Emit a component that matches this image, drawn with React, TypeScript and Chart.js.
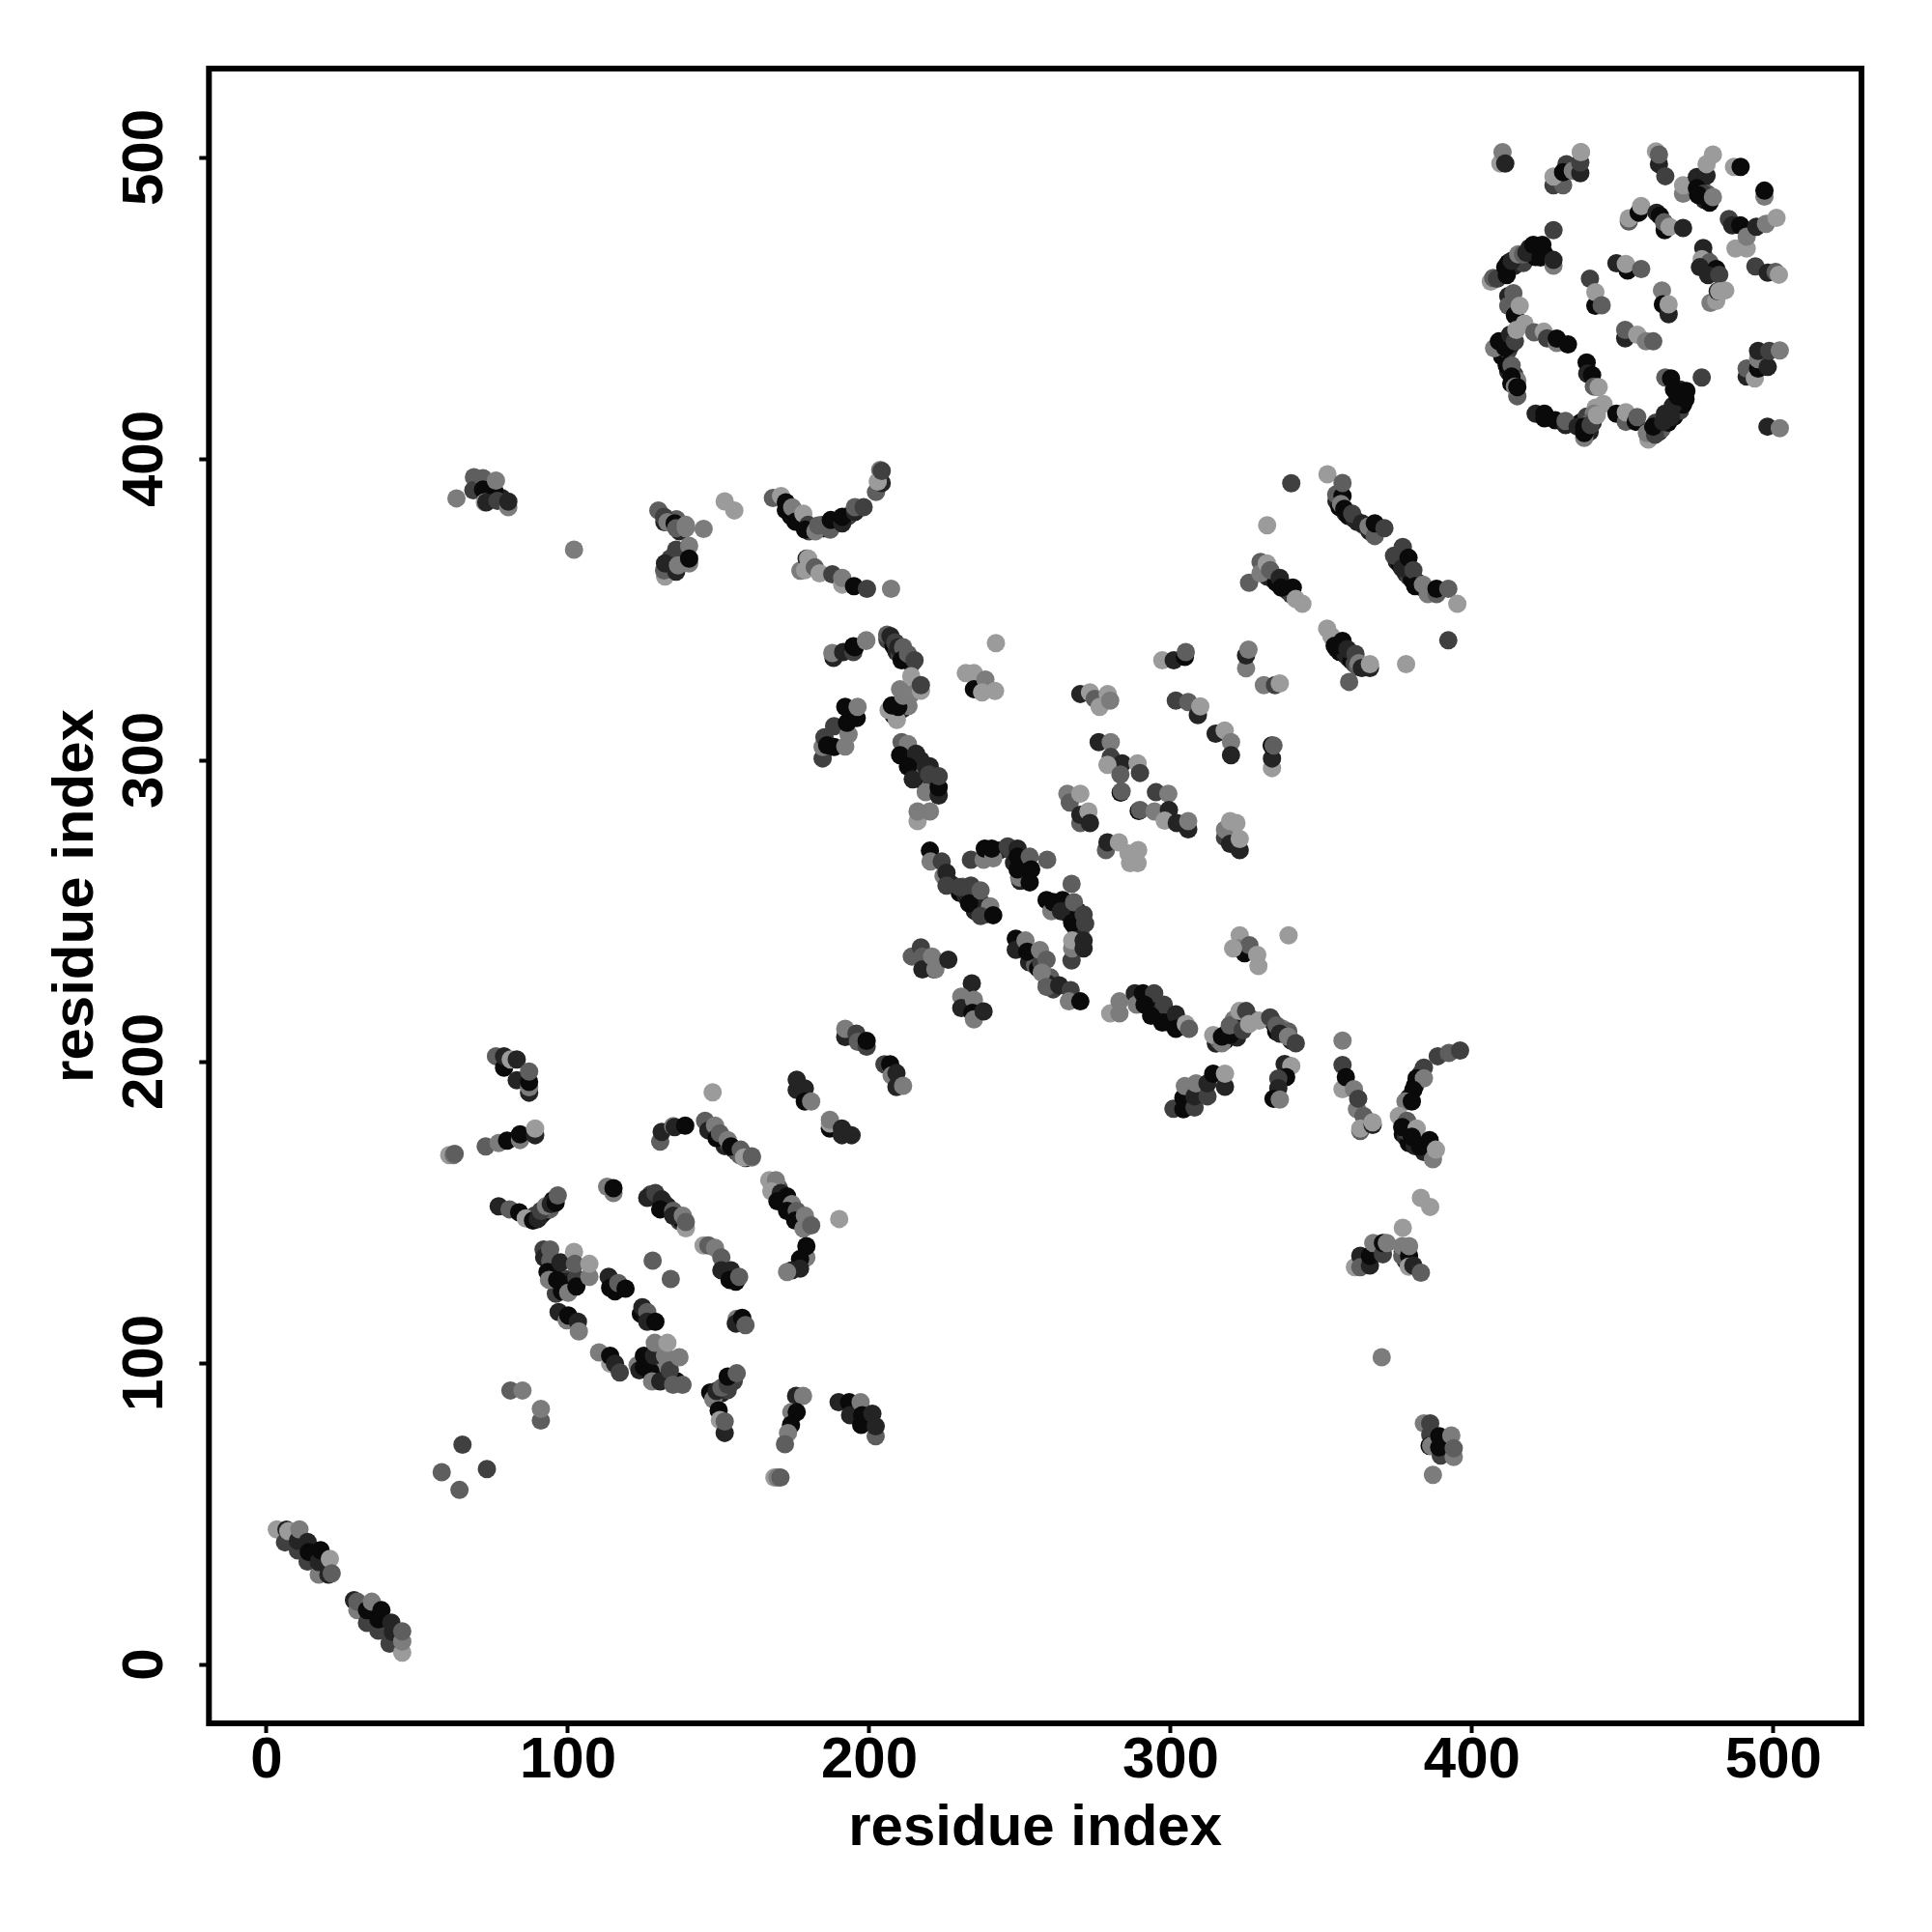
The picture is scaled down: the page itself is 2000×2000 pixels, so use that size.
import React, { useEffect, useRef } from "react";
import { Chart, registerables } from "chart.js";

Chart.register(...registerables);

type P = [number, number, number];

const axisTitle = "residue index";
const tickValues = [0, 100, 200, 300, 400, 500];
const shadePalette = ["#0a0a0a", "#242424", "#404040", "#5e5e5e", "#7c7c7c", "#9b9b9b"];

const ringDenseBand: P[] = [[412,465,0],[414,464,1],[415,466,0],[417,465,2],[419,470,1],[421,467,0],[424,468,0],[461,412,2],[462,409,1],[463,410,3],[465,412,0],[464,415,1],[467,414,0],[468,417,1],[469,416,2],[470,418,0],[469,423,1],[467,423,0],[436,412,0],[438,414,2],[439,409,1],[440,412,1],[441,417,5],[409,436,1],[410,434,0],[412,436,2],[413,438,1],[412,429,1],[413,425,0],[414,428,2],[415,426,4],[473,491,1],[475,492,0],[476,490,2],[477,486,1],[478,488,3],[477,467,2],[478,464,0],[480,462,1]];
const upperDenseBand: P[] = [[355,386,1],[356,384,0],[358,382,1],[359,381,0],[361,380,1],[362,379,1],[364,378,3],[366,376,1],[368,376,2],[375,366,1],[376,365,0],[378,362,1],[379,361,2],[380,360,0],[382,359,1],[384,357,1],[386,356,2],[331,363,2],[332,361,1],[334,360,1],[335,359,0],[337,358,1],[338,357,0],[339,356,1],[340,355,2],[355,337,1],[356,336,0],[358,335,1],[359,334,1],[360,333,0],[361,332,2],[362,331,3],[364,331,2]];
const lowerDenseBand: P[] = [[377,176,0],[378,175,1],[379,173,0],[381,172,1],[383,172,0],[384,170,1],[378,177,2],[380,178,3],[379,188,1],[381,192,0],[382,194,1],[383,196,2],[147,178,3],[149,176,1],[150,175,0],[151,174,3],[152,172,1],[153,173,2],[155,171,1],[156,170,2],[157,169,3],[159,168,1],[170,158,3],[171,155,1],[172,153,0],[173,152,1],[174,150,0],[175,149,1],[176,148,0],[177,147,2],[178,146,1],[179,147,3]];
const armDenseBand: P[] = [[174,381,0],[175,381,1],[176,380,3],[177,379,0],[178,378,1],[180,376,2],[181,377,1],[184,378,1],[185,377,0],[189,379,1],[193,381,2],[206,340,2],[208,338,0],[209,336,1],[210,335,2],[211,335,0],[213,333,1],[214,332,2],[89,149,2],[91,149,1],[92,150,0],[93,151,2],[94,151,3],[95,154,0],[148,90,1],[149,89,0],[150,91,3],[151,90,1],[152,92,4],[153,91,2],[154,94,1],[155,94,2]];
const strandDenseBand: P[] = [[315,206,1],[316,207,3],[318,207,0],[318,209,2],[321,210,0],[322,208,1],[321,214,4],[324,213,1],[327,214,3],[334,213,1],[335,210,0],[337,211,4],[338,209,2],[340,207,1],[339,210,3],[292,221,1],[293,220,2],[295,217,0],[296,216,1],[298,215,1],[299,213,3],[300,214,0],[303,212,1],[289,221,3]];
const centerDenseBand: P[] = [[227,259,1],[230,256,0],[231,258,3],[232,255,1],[234,255,2],[235,250,1],[238,252,1],[239,249,1],[250,238,1],[253,233,1],[254,236,2],[255,232,3],[256,231,0],[257,233,2],[260,228,3],[259,226,1],[261,224,2],[243,270,1],[247,270,2],[251,266,1],[252,262,0],[248,266,1],[250,260,1],[262,252,1],[266,249,1],[269,247,2],[270,243,3],[269,250,0],[268,245,1]];
const blockDenseBand: P[] = [[213,300,1],[215,298,0],[216,295,2],[217,296,4],[218,293,0],[220,291,3],[221,293,1],[222,290,0],[217,300,1],[220,298,1],[208,315,0],[209,315,2],[211,317,1],[212,319,3],[213,318,4],[95,131,0],[96,129,1],[97,125,1],[99,128,2],[99,124,0],[100,127,1],[96,123,2],[126,100,1],[127,100,0],[129,99,1],[131,96,2],[131,100,4],[133,95,1],[136,94,0],[132,153,3],[133,152,1],[136,149,1],[137,147,2],[138,147,0],[132,379,1],[136,380,3],[137,376,1],[134,363,1],[137,367,1],[138,368,3],[139,369,1],[134,367,2],[70,392,1],[74,388,0],[78,387,1],[364,133,1],[365,134,0],[368,137,1],[377,137,0],[378,134,1]];

const ringOuterTop: P[] = [[409.4,498,5],[410.1,501.8,4],[411,498,1],[436.1,501.8,5],[427,490.8,2],[430.2,490.8,3],[427,493.7,5],[431.3,497.8,2],[430.2,495.1,0],[433.4,495.6,4],[435.9,494.8,1],[435.9,498.3,2],[436.1,501.8,5],[461,502,5],[462,497.8,1],[464.1,493.8,2],[462,501,3],[470,488,4],[470,490.8,5],[474.6,493.5,1],[477.8,494,1],[477.8,497.8,5],[479.9,501,5],[474.6,489.8,0],[476.7,488,2],[475,487.6,0],[478.8,485,0],[479.9,486.9,4],[486.9,496.9,5],[489.1,496.9,0],[497,487,4],[497,489,0]];
const ringRightTop: P[] = [[452,478.8,3],[452,479.8,5],[455.3,481.7,0],[456.1,483.9,5],[461.2,481.7,1],[462.3,480.7,0],[463.9,475.9,0],[463.7,478.5,3],[465.5,477,5],[470,476.6,1],[485.2,479.6,2],[486.3,477.5,1],[489,477.5,0],[487.4,469.8,5],[491.1,469.8,5],[491.1,473.7,4],[494.3,477,1],[497.5,478,4],[501,480,5],[494,463.9,2],[498.1,461.8,1],[500.7,462,3],[501.8,461.1,5],[476.7,470,1],[476.2,466.3,5],[478.8,465.2,3],[475.6,463.6,1],[481,463,0],[478.3,461,1],[482,461.1,2],[479.1,451.8,4],[481,452.4,5],[481.5,455.6,1],[482,455.6,5],[484,455.9,5]];
const ringInner: P[] = [[439.1,459.8,2],[440.9,450.8,0],[440.9,455.3,5],[443,451,3],[447.9,464.9,1],[451.6,462.5,0],[451,464.7,5],[456.1,463,3],[463,455.9,4],[463.3,451.3,0],[465.2,448,1],[465.2,451.3,5],[450.8,440,1],[450.8,442.8,3],[454.8,441.2,5],[457.7,439,4],[460.1,439,3],[491.1,427.3,1],[491.1,430,3],[493.8,426.7,5],[494.9,430,0],[494.9,433.1,4],[494.9,435.8,1],[498.1,430.5,1],[498.6,435.8,2],[502.1,436,4],[498,410.7,1],[502.1,410.2,4],[476.2,427,2]];
const ringLeftArc: P[] = [[427,475.9,2],[406.2,458.8,5],[407,460,3],[408.3,459.8,2],[411,463.6,0],[411.5,461,0],[413.1,465.7,1],[415.3,467.9,4],[416.9,467.9,3],[418,468.4,1],[420.3,471,0],[423.3,471,0],[422.7,466.8,0],[427,464.1,4],[427,466,1],[412,454,1],[413.7,455,3],[412,450.8,3],[414.2,447.6,0],[415.8,450.8,5],[417.4,444.9,5],[420.6,442,3],[423.8,442.2,5],[424.9,440,2],[428.1,438.5,4],[428.1,439.9,0],[431.8,438,0]];
const ringLeftLobe: P[] = [[407.3,436.7,4],[408.9,439,0],[411,436.9,0],[412.6,441.2,1],[414.2,439,2],[414.7,442.8,5],[411.5,431,0],[413.1,431,3],[413.1,427.3,0],[415,420.8,3],[414.2,424,4],[415,423.8,0],[421.1,415,1],[424,415,0],[424,413.5,0],[427.6,412.8,0],[431,411.2,1],[431,412.6,3]];
const ringStem: P[] = [[438,432,0],[438.2,428.3,1],[439.8,427.8,0],[440.4,424,3],[442,423.8,5],[443.6,418.2,5],[440.4,415,4],[439,412,3],[435,410.7,1],[437.2,407,4],[437.2,408.6,0],[437.2,410.7,0],[439.3,411.2,2],[441.4,414.5,5],[447.9,415,0],[451,412.3,3],[451,415.5,5],[454.3,412.3,0],[454.8,413.9,3]];
const ringBottomArc: P[] = [[458.5,406.4,5],[458,408.6,4],[460.7,408,2],[460.1,410.7,0],[463.4,412.3,1],[466,413.9,1],[466.6,417.6,1],[468.2,420.8,0],[470.8,419.8,0],[471.1,422.5,0],[464.1,427,3],[466,426.7,0]];

const firstDiagonal: P[] = [[3.4,44.8,5],[6.1,40.5,2],[6.6,44.7,1],[7.2,44.2,5],[10.4,37.8,2],[10.4,41,1],[10.9,44.8,4],[13.6,34.1,2],[13.6,40.6,1],[14,37.3,0],[17.3,29.8,4],[17.3,34,1],[17.9,37.9,0],[20.5,29.8,1],[21,35,5],[21.6,30.2,3]];
const secondDiagonal: P[] = [[29,21.3,1],[30.1,18,4],[30.1,20.8,3],[33.3,13.8,2],[33.3,18,0],[34.9,20.8,4],[37.1,11.2,2],[37.1,15,0],[38.1,18,0],[40.8,6.9,2],[41.4,13.9,1],[41.9,10.7,1],[45,3.9,5],[45,7.6,4],[45,11,3]];
const looseLow: P[] = [[65,72.9,2],[73.1,64.8,2],[58.1,63.8,3],[64,57.9,3],[80.9,90.9,3],[84.9,90.9,4],[91,80.9,3],[91,84.8,4],[168.5,62,5],[169.5,62,4],[170.5,62,3]];

const groupA: P[] = [[76.1,201.8,3],[78.8,198,0],[78.8,201.8,1],[81,200.7,5],[83,200.7,1],[83,193.8,1],[87.1,189.7,1],[87.1,191.5,4],[87.1,193.3,0],[87.1,196.7,3]];
const groupB: P[] = [[60.6,169,5],[62,169,4],[62.4,169.4,3],[72.7,171.9,3],[77,173,4],[79.8,173.8,0],[84.1,174,4],[84.1,175.9,0],[89.1,175.6,1],[89.1,177.8,5]];
const groupC: P[] = [[77,152,1],[80.6,151,3],[83.8,150,0],[86,148,5],[88.4,147.3,0],[90,147.8,1],[91,150.5,2],[92.7,152.1,4],[94.3,152.7,1],[95.9,153.2,0],[96.6,155.6,3]];
const groupD: P[] = [[91.9,137.7,2],[92.1,135,1],[94.1,137.7,3],[94.1,134,3],[93.2,130.2,0],[93.7,127.6,4],[96.4,127.6,0],[97.5,133.4,1],[98.5,126,0],[98,123.8,0],[100.1,123.3,4],[102.8,128.1,2],[102.8,125.4,0],[102,136.9,5],[102.3,132.9,3],[107.1,128.6,4],[107.1,132.9,5]];
const groupE: P[] = [[113,158.5,4],[115.1,156.4,4],[115.1,158,0],[113.5,128.6,1],[114,124.9,0],[115.6,123.8,0],[116.7,126.5,3],[119.1,124.7,0],[124.2,116.3,0],[124.7,118.5,1],[126.3,116.9,3],[126.3,113.7,1],[129,113.7,0]];
const groupG: P[] = [[96.9,116.9,1],[99.6,114.2,4],[100.1,115.8,0],[103.3,113.7,1],[103.6,110.5,4],[110.3,103.5,4],[114,99.8,5],[114,102.4,0],[115.6,99.8,1],[117.2,96.9,2]];
const groupI: P[] = [[123.1,99.3,4],[123.7,97.6,1],[125.2,102.4,0],[125.2,98.7,0],[127.4,97.1,0],[127.9,93.9,4],[128.5,102.4,1],[128.8,106.7,4],[130.6,93.9,1],[132.2,102.4,4],[133,106.7,5],[133.8,97.6,2],[134.9,92.8,3],[137,101.9,4],[138,92.8,3]];
const groupJ: P[] = [[147.2,90.2,0],[148.2,88,4],[149.3,90.7,1],[150.9,91.8,3],[153,92.8,2],[153,95.5,0],[156,96.6,3],[150,84.3,0],[150.4,81.1,5],[152,76.8,1],[152,80.6,3]];
const groupL: P[] = [[128.1,134,3],[134.1,127.9,3],[145,139,5],[146.6,139,3],[148.8,138.2,4],[150.9,135,3],[150.9,130.8,1],[154.1,130.8,1],[153.6,127.6,0],[155.7,127,0],[156.8,128.6,3],[156,114.7,4],[155.7,113.1,1],[157.8,115,0],[158.9,112.6,3]];
const groupM: P[] = [[127.4,155.9,2],[126.3,154.8,1],[129,156.4,2],[131.1,154.3,1],[130.6,151,0],[134.9,150.5,3],[134.9,148.9,1],[138.1,148.9,4],[139.1,144.7,5],[139.1,146.8,3]];
const chainUpper: P[] = [[148,189.8,5],[130.6,173.5,3],[131.1,176.7,1],[134.9,178.6,4],[135.4,178.3,1],[138.9,178.8,0],[145.5,180.4,3],[146.6,177.2,1],[148.8,178.8,4],[149.3,174.6,0],[150.4,176.2,3],[153,174,4],[154.1,171.9,0],[157.3,170.8,3],[158.4,168.2,5],[161,168.2,4],[161,168.6,3]];
const chainSide: P[] = [[166.8,160.7,5],[169,160.7,4],[167.5,157,5],[170.6,156.4,1],[169.5,153.7,0],[172.7,155.3,0],[174.3,152.7,4],[172.7,150.5,0],[175.9,150.5,3],[175.4,147.3,0],[178.6,148.9,4],[178.1,144.6,4],[180.7,145.7,3],[190,147.8,5],[179.1,135,4],[179.1,138.8,0],[177,134.5,0],[177,131.3,1],[174.3,130.8,1],[172.7,130.2,4]];
const groupN: P[] = [[175.9,190.6,1],[175.9,194,1],[178.6,191.1,1],[178.6,186.8,0],[180.7,186.8,4],[186.9,177.8,0],[186.9,179.5,5],[186.9,180.7,4],[190.9,177.8,1],[190.9,175.6,1],[194.1,175.6,1],[192,208.2,1],[192,210.9,4],[195.7,209.3,2],[196.2,206.6,3],[199.1,205,2],[199.1,206.9,0],[205,199.1,2],[206.9,199.1,0],[207.4,195.4,4],[209,196.2,1],[209,191.6,1],[211.2,192,4]];
const groupO: P[] = [[175.7,89.1,1],[178,89.1,4],[174.1,83.7,4],[175.9,83.7,0],[174,79.5,0],[173,76.8,4],[172,73.1,3],[189.8,87,1],[193.3,87,0],[193.6,82.7,1],[197.1,87,4],[197.3,79.5,0],[197.6,82.7,0],[201,83.2,1],[202.1,75.7,3],[202.1,79,1]];

const farLeftTop: P[] = [[63,386.9,4],[68.8,393.9,3],[68.6,389.6,2],[71.8,393.6,3],[71.8,389.8,0],[75.6,389.3,0],[76.1,392.8,4],[72.4,385.6,5],[72.9,385.6,1],[76.6,386.1,2],[80.2,384,4],[80.2,385.8,1],[102,369.9,4]];
const clusterAt135: P[] = [[130,382.9,3],[131.9,380.8,2],[133,379,4],[135.4,378.6,0],[135.9,377,3],[139.1,378.1,4],[139.1,377,4],[145,376.8,4],[135.9,369.9,2],[140.2,371.2,4],[132.2,361,5],[131.9,363,3],[132.2,365.3,1],[135.9,362.6,1],[136.5,364.7,4],[140.2,365.3,4],[140.2,366.9,0],[152,385.9,5],[155.2,382.9,5]];
const armV: P[] = [[168,387,3],[170.7,387.7,5],[172.3,385.6,0],[172.3,383,0],[173.3,383.9,0],[174.4,383.9,4],[175.5,379.2,0],[178.1,381.8,5],[179.7,378.1,2],[178.7,376.5,0],[182.1,376,4],[183,377.9,3],[187,376.5,3],[187.2,379.7,0],[191,378.6,1],[191,380.8,0],[195.2,382.4,1],[195.2,384,3],[198.1,384,2],[202.2,389,3],[203.6,396.3,4],[204.1,392,1],[202.8,392.5,5],[204.1,396,2]];
const rowAt360: P[] = [[177.1,362.9,4],[179.2,366.9,1],[179.7,366.9,5],[178.7,363.1,5],[181.9,364,3],[183.5,362,5],[187.7,361.7,2],[191,358.3,5],[191,360.5,4],[194.9,357.8,0],[199.2,356.9,2],[207.2,356.9,4]];
const rowAt335: P[] = [[188.1,334,1],[187.7,335.6,4],[191.3,335.9,1],[194.7,335.9,2],[194.7,337.8,0],[195.2,337.5,0],[198.9,339.6,4],[199,339.8,4],[205.9,341.7,3],[207,341.2,1],[208.6,339.1,2],[209.6,337.5,1],[211.2,337.5,3],[210.7,333.2,0],[212.8,335.3,3],[215,333.2,2]];
const clusterAt210: P[] = [[209.1,313.4,5],[206.4,316.6,5],[207.5,318.2,0],[209.6,317.7,0],[211.2,321.4,4],[210.2,323.6,4],[213.9,327.9,5],[213.9,322,4],[217.1,323.1,5],[217.1,324.9,2],[184.5,300.6,2],[184.5,304.4,4],[185.1,307.6,2],[186,305,0],[188.3,304.4,0],[188.3,311.3,2],[192,304.6,4],[193.1,308.6,4],[192.6,312.4,0],[192,317.7,0],[195.8,314,0],[196.1,317.7,4]];
const clusterAt215: P[] = [[210.7,306,3],[212.8,305.4,4],[210.2,301.7,0],[215.5,302.2,1],[212.8,297.9,0],[214.4,293.7,1],[218.7,297.9,1],[218.7,289.4,4],[219.8,295.3,2],[223,288.3,1],[223,291,0],[223,294.7,2],[216,279.8,5],[216,283,4],[220.1,283,4]];
const centerLow: P[] = [[214.1,234.9,3],[217.1,237.9,2],[217.6,234.9,3],[217.6,230.6,1],[221.4,230.6,1],[220.8,234.9,4],[221.9,230.6,4],[226.2,233.8,1],[234,226,1],[230.5,221.6,4],[230.5,217.8,1],[234.7,220.5,4],[234.2,216.2,0],[234.7,214,4],[237.9,216.7,1]];
const centerChain: P[] = [[220.1,270,0],[220.3,266.4,4],[224,266.4,2],[224.6,261.6,4],[225.6,262.7,1],[225.6,258.4,2],[229.9,257.9,2],[233.7,258.4,2],[233.1,252.5,0],[236.9,256.8,3],[240.1,251.5,4],[236.9,248.3,2],[241.1,248.6,0]];
const centerArc: P[] = [[233.7,267,2],[237.9,267,4],[238.3,270.7,0],[241.1,267.5,4],[240.6,270.7,0],[245.9,271.4,2],[249.2,270.7,1],[249.2,268,0],[249.7,261.1,4],[249.2,263.8,0],[253.2,268,3],[253.2,259.5,0],[253.7,263.8,0],[259,267,3]];
const centerRight: P[] = [[267.1,259,3],[258.8,253.6,0],[260.4,249.9,4],[260.9,253,0],[264.1,253.6,0],[263.6,249.9,1],[267.9,252.9,3],[267.3,246.1,0],[271.1,248.8,2],[271.6,245.8,2],[267.1,233.6,2],[267.3,237.6,4],[267.3,240.2,5],[271.1,237.6,1],[271.1,240.2,1],[248.6,240.8,0],[248.6,237.1,1],[251.8,240.2,4],[252.4,236.5,0],[256.6,237,4],[258.8,233.8,3],[257.2,229.6,4],[258.8,224.8,3],[263,225.3,1],[266.8,223.7,2],[266.2,220,4],[270,220,0]];
const upperMid: P[] = [[242,338.9,5],[232,328.9,5],[234.7,328.9,5],[234.7,323.6,0],[238.5,326.8,4],[237.4,322.5,5],[241.7,323,5],[270,322,1],[273.2,322.5,5],[274.8,320.4,3],[276.4,317.7,5],[279.1,322,5],[279.9,319.8,4],[297.2,333.2,5],[301,333.2,1],[304.7,334.3,0],[305,335.9,3],[325,330.5,4],[325,334.8,1],[325.8,336.7,4],[330.9,324.9,4],[334.6,324.9,2],[336.2,325.5,5],[301.7,319.8,2],[305.8,319.3,3],[309,315,1],[309.8,317.9,5],[314.9,308.8,1],[317.9,309.9,5],[320,306,4],[320,301.7,1],[333.6,297.4,5],[333.6,300.6,1],[333.5,304.9,0],[334.1,304.9,3]];
const midBlock: P[] = [[276.1,306,1],[280.1,306,4],[280.1,301.1,2],[283.9,299,1],[279,298.5,5],[283.3,295.3,3],[289,299,5],[289.8,295.8,2],[283.4,289.3,0],[283.7,289.7,3],[289.4,283.2,0],[289.8,283.5,3],[295.1,289.4,2],[299.2,288.9,4],[294.6,283,4],[299.4,283.5,1],[298,280,5],[302,279.2,1],[305.8,277.1,1],[305.8,279.8,4]];
const midLeft: P[] = [[265.7,288.9,4],[266.5,286,3],[270,288.9,5],[270,279.2,3],[270,281.9,1],[272.7,283,5],[273.2,279.2,1],[278.5,270.2,3],[279,272.8,1],[282.8,272.8,5],[286,269.1,5],[289.2,270.2,5],[286.5,265.9,5],[289,265.9,5],[318,274.4,2],[318,277,4],[319.7,279.8,5],[321.8,279.2,5],[319.7,272.3,1],[322.9,270.2,1],[322.9,273.9,5]];
const midRightLow: P[] = [[322.9,241.9,5],[322.4,237.6,4],[324.5,236,0],[326.1,238.6,3],[328.7,235.4,5],[329.1,231.7,5],[339.1,241.9,5],[320.7,237.6,5]];
const strandLow: P[] = [[279.9,216,5],[283,220,4],[283,216,4],[288.1,222.7,1],[288.7,218.9,4],[290.8,222.7,0],[294.5,222.7,2],[291.3,218.9,0],[297.7,218.9,2],[293.5,215.2,0],[297.2,213,0],[301.7,215.7,1],[301.7,210.9,0],[305,212.5,5],[306.1,210.9,3]];
const strandArch: P[] = [[314.1,208.8,5],[317,206.1,4],[317,208.3,0],[319.6,208.8,0],[319.6,212,3],[322.8,216.8,5],[325,216.8,2],[323.9,210.4,2],[326,212.5,5],[329.3,213.6,5],[333,214.7,2],[335.1,212,3],[336.2,209.3,1],[338.9,208.3,4],[341.5,206.1,2],[337.8,199.2,1],[340,198.6,5],[338.3,194.9,0],[335.7,194.4,2],[335.7,191.2,1],[334.1,187.7,0],[336.2,187.4,4]];
const strandFoot: P[] = [[300.9,184.4,2],[304.2,184.2,0],[304.2,188,0],[304.7,191.9,4],[307.9,184.8,2],[307.9,188.5,1],[308.4,192.8,4],[312.2,188.5,2],[312.2,192.8,1],[314.1,196,0],[318,191.7,1],[318,196,5]];

const upperRightA: P[] = [[340,391.9,2],[332,378,5],[352,394.9,5],[354.9,388.2,3],[357,387.7,0],[357,392,3],[356.5,385,4],[357.6,383.4,0],[360.2,381.8,2],[363.4,378.6,1],[365.6,377.6,4],[367.7,374.4,3],[367.7,378.6,0],[370.9,377,2],[374.1,367.9,2],[377,370.8,2],[376.8,363.7,1],[378.9,367.2,0],[380.5,363.1,2],[381.1,357.8,0],[383.7,358.3,4],[385.3,355.1,4],[388.2,355.1,3],[388.2,356.9,0],[392.1,356.9,3],[395.1,351.9,5],[392.1,339.8,2],[378.1,331.9,5]];
const upperRightB: P[] = [[326,358.9,3],[329.8,365.8,3],[329.8,362,4],[331.9,365.3,5],[333,363.1,3],[336.2,360.5,1],[336.7,357.3,0],[340.5,357.3,0],[341.5,353.5,5],[343.7,351.9,5]];
const upperRightC: P[] = [[351.9,343.7,5],[353.3,341.2,5],[354.4,338,0],[357,339.6,0],[358.6,336.9,1],[361.3,335.3,2],[362.4,332.2,4],[363.4,330.6,1],[366.1,330.6,1],[366.1,331.9,5],[359.2,326,3]];

const lowerRightArm: P[] = [[357,207,4],[357,190.9,5],[357,198.9,2],[358.1,194.9,0],[360.8,190.9,4],[361.8,184.2,4],[362.2,187.7,2],[364,182,3],[362.9,177,3],[362.9,177.8,5],[367,179,1],[367,179.9,5],[388.6,201.8,2],[392.3,202.9,3],[396,203.7,2],[384,198,2],[381.6,194.5,0],[384,194.5,4],[380.5,190.6,0],[377.9,186.8,4],[380,186.8,0],[375.7,182,5],[378.4,180.4,3],[376.8,178.3,0],[381.6,177.8,5],[380,175.1,0],[382.7,171.9,0],[385.9,174,0],[387,167.6,4],[388,170.8,5]];
const lowerRightCluster: P[] = [[383,154.8,5],[386.1,151.8,5],[377,144.9,5],[361.1,131.8,5],[362.9,135.6,1],[362.9,131.8,3],[366.1,132.4,1],[366.1,135.6,0],[367.2,139.8,4],[370.4,136.1,2],[370.4,139.8,0],[371.7,139.8,4],[376.8,135.6,3],[376.8,138.8,4],[379.1,135.6,0],[379.1,138.8,4],[379,132,5],[380.5,132.4,1],[383,130,3],[370,101.9,4]];
const lowerRightFoot: P[] = [[384,80,4],[386.1,80,2],[386.1,76.3,2],[385.9,72.5,0],[386.4,72.5,4],[389.1,75.7,0],[389.6,69.3,2],[389.1,72,0],[393.1,76,4],[393.9,68.8,4],[393.9,71.7,3],[387,62.9,4]];

const contactGroups: P[][] = [
  ringDenseBand, upperDenseBand, lowerDenseBand, armDenseBand, strandDenseBand, centerDenseBand, blockDenseBand,
  ringOuterTop, ringRightTop, ringInner, ringLeftArc, ringLeftLobe, ringStem, ringBottomArc,
  firstDiagonal, secondDiagonal, looseLow, groupA, groupB, groupC, groupD, groupE, groupG, groupI,
  groupJ, groupL, groupM, chainUpper, chainSide, groupN, groupO, farLeftTop, clusterAt135, armV,
  rowAt360, rowAt335, clusterAt210, clusterAt215, centerLow, centerChain, centerArc, centerRight,
  upperMid, midBlock, midLeft, midRightLow, strandLow, strandArch, strandFoot, upperRightA,
  upperRightB, upperRightC, lowerRightArm, lowerRightCluster, lowerRightFoot,
];

const framePlugin = {
  id: "frame",
  afterDatasetsDraw(chart: any) {
    const { ctx, chartArea: a } = chart;
    ctx.save();
    ctx.strokeStyle = "#000";
    ctx.lineWidth = 6;
    ctx.lineJoin = "miter";
    ctx.strokeRect(a.left, a.top, a.right - a.left, a.bottom - a.top);
    ctx.restore();
  },
};

export default function App() {
  const ref = useRef<HTMLCanvasElement | null>(null);
  useEffect(() => {
    const all = contactGroups.flat();
    const fontSpec = { family: "'Liberation Sans', Arial, sans-serif", size: 60, weight: "bold" as const, lineHeight: 1.2 };
    const setTicks = (s: any) => { s.ticks = tickValues.map((value) => ({ value })); };
    const chart = new Chart(ref.current as HTMLCanvasElement, {
      type: "scatter",
      data: {
        datasets: [{
          data: all.map((p) => ({ x: p[0], y: p[1] })),
          pointRadius: 9.5,
          pointBorderWidth: 0,
          pointBackgroundColor: all.map((p) => shadePalette[p[2]]),
          showLine: false,
        }],
      },
      options: {
        animation: false,
        responsive: false,
        events: [],
        layout: { padding: { top: 71, right: 73, left: 0, bottom: 0 } },
        plugins: { legend: { display: false }, tooltip: { enabled: false } },
        scales: {
          x: {
            type: "linear",
            min: -19.13,
            max: 529.2,
            afterBuildTicks: setTicks,
            afterFit: (s: any) => { s.height = 216; },
            border: { display: false },
            grid: { drawOnChartArea: false, drawTicks: true, tickLength: 10, tickWidth: 4, tickColor: "#000" },
            ticks: { autoSkip: false, color: "#000", font: fontSpec, padding: -7, maxRotation: 0 },
            title: { display: true, text: axisTitle, color: "#000", font: fontSpec, padding: { top: 0, bottom: 71 } },
          },
          y: {
            type: "linear",
            min: -19.55,
            max: 529.5,
            afterBuildTicks: setTicks,
            afterFit: (s: any) => { s.width = 216.3; },
            border: { display: false },
            grid: { drawOnChartArea: false, drawTicks: true, tickLength: 10, tickWidth: 4, tickColor: "#000" },
            ticks: { autoSkip: false, color: "#000", font: fontSpec, padding: 5, minRotation: 90, maxRotation: 90, crossAlign: "center" },
            title: { display: true, text: axisTitle, color: "#000", font: fontSpec, padding: { top: 43, bottom: 0 } },
          },
        },
      } as any,
      plugins: [framePlugin],
    });
    return () => chart.destroy();
  }, []);
  return (
    <div style={{ position: "absolute", left: 0, top: 0, width: 2000, height: 2000, background: "#fff" }}>
      <canvas ref={ref} width={2000} height={2000} style={{ display: "block" }} />
    </div>
  );
}
